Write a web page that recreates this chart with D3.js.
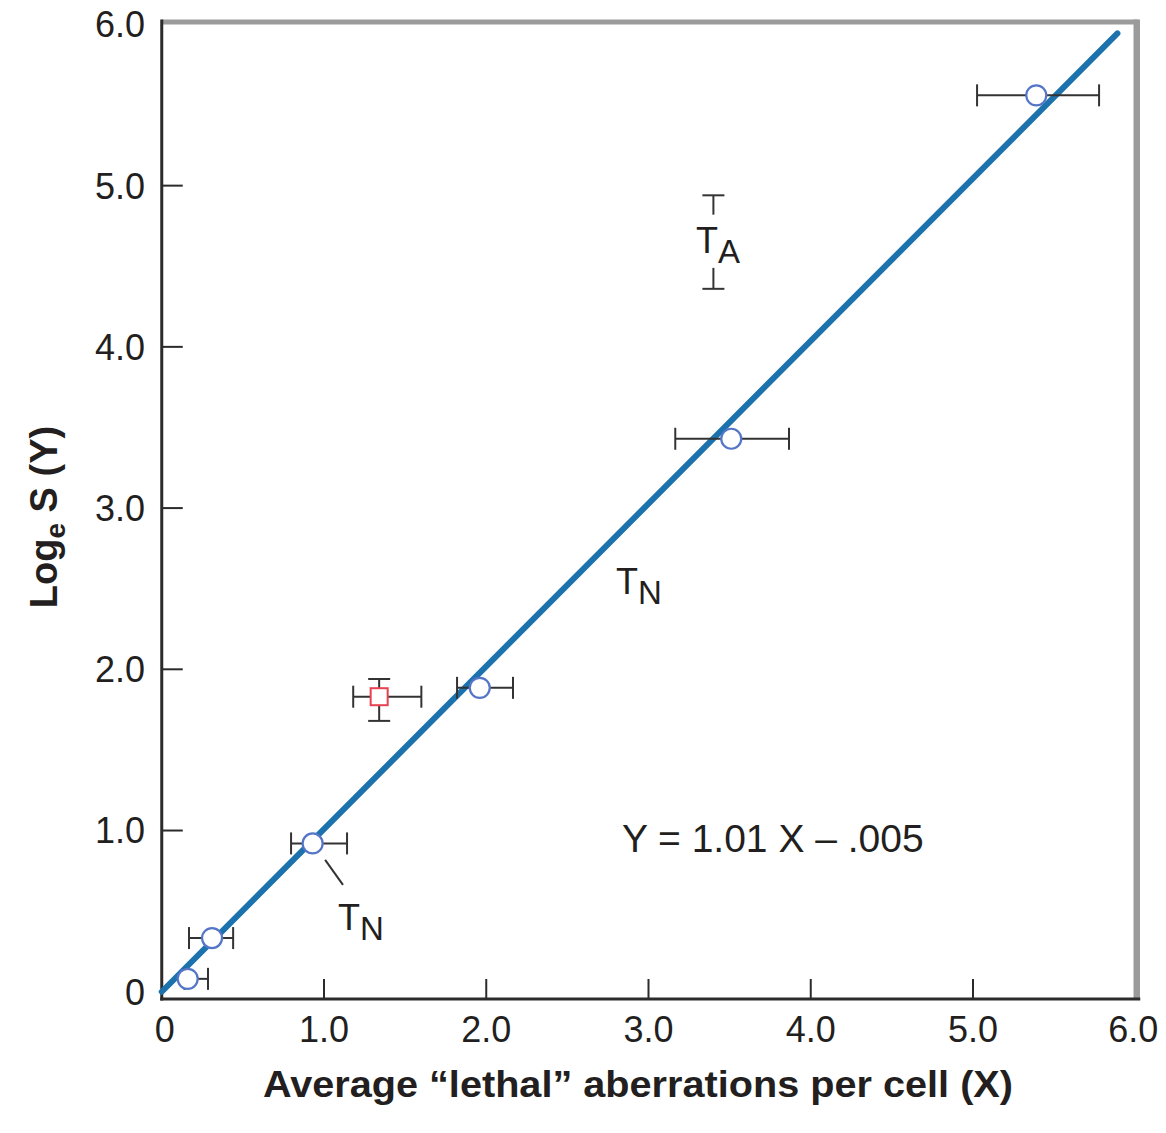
<!DOCTYPE html>
<html><head><meta charset="utf-8">
<script src="https://cdn.jsdelivr.net/npm/d3@7"></script>
<style>
html,body{margin:0;padding:0;background:#fff;}
text{font-family:"Liberation Sans",Arial,sans-serif;fill:#231f20;}
</style></head>
<body>
<svg id="chart" width="1166" height="1133"></svg>
<script>
// ---- data ----
const pointX   = [0.16, 0.31, 0.93, 1.96, 3.51, 5.39];
const pointY   = [0.08, 0.333, 0.92, 1.885, 3.43, 5.56];
const xErrLow  = [0.14, 0.168, 0.797, 1.82, 3.165, 5.025];
const xErrHigh = [0.285, 0.44, 1.142, 2.165, 3.866, 5.777];

const redX = [1.34], redY = [1.83];
const redXErrLow = [1.18], redXErrHigh = [1.60];
const redYErrLow = [1.68], redYErrHigh = [1.94];

const taX = [3.40], taYLow = [4.36], taYHigh = [4.94];
const taGapLow = [4.82], taGapHigh = [4.49];

const fitSlope = 1.01, fitIntercept = -0.005;
const fitXRange = [0, 5.89];

const xTicks = [0, 1, 2, 3, 4, 5, 6];
const xTickLabels = ["0", "1.0", "2.0", "3.0", "4.0", "5.0", "6.0"];
const yTicks = [0, 1, 2, 3, 4, 5, 6];
const yTickLabels = ["0", "1.0", "2.0", "3.0", "4.0", "5.0", "6.0"];

const labelText = [["T","N"], ["T","N"], ["T","A"]];
const labelX = [2.80, 1.086, 3.293];
const labelY = [2.47, 0.383, 4.58];
const leaderLine = [[1.007, 0.818], [1.117, 0.663]];
const equationText = "Y = 1.01 X \u2013 .005";
const equationPos = [2.836, 0.867];
const xTitle = "Average \u201clethal\u201d aberrations per cell (X)";

// ---- layout ----
const svg = d3.select("#chart");
const x = d3.scaleLinear().domain([0, 6]).range([161.75, 1135.25]);
const y = d3.scaleLinear().domain([-0.045, 6.015]).range([999, 22]);
const x0 = x(0), x1 = x(6), yb = y(-0.045), yt = y(6.015);

// frame: gray top & right
svg.append("line").attr("x1", x0).attr("x2", x1 + 3).attr("y1", yt).attr("y2", yt)
  .attr("stroke", "#9b9b9b").attr("stroke-width", 5);
svg.append("line").attr("x1", x1 + 1.5).attr("x2", x1 + 1.5).attr("y1", yt - 2.5).attr("y2", yb)
  .attr("stroke", "#9b9b9b").attr("stroke-width", 6.5);

// ticks (inward)
const dark = "#2b2b2b";
svg.append("g").selectAll("line").data(xTicks.filter(d => d > 0 && d < 6)).join("line")
  .attr("x1", d => x(d)).attr("x2", d => x(d)).attr("y1", yb).attr("y2", yb - 20)
  .attr("stroke", dark).attr("stroke-width", 2);
svg.append("g").selectAll("line").data(yTicks.filter(d => d > 0 && d < 6)).join("line")
  .attr("x1", x0).attr("x2", x0 + 21).attr("y1", d => y(d)).attr("y2", d => y(d))
  .attr("stroke", dark).attr("stroke-width", 2);

// left & bottom axis lines
svg.append("line").attr("x1", x0).attr("x2", x0).attr("y1", yt - 2.5).attr("y2", yb + 1.5)
  .attr("stroke", dark).attr("stroke-width", 3);
svg.append("line").attr("x1", x0 - 1.5).attr("x2", x1 + 5).attr("y1", yb).attr("y2", yb)
  .attr("stroke", dark).attr("stroke-width", 3);

// tick labels
svg.append("g").selectAll("text").data(xTicks).join("text")
  .attr("x", d => x(d) + (d === 0 ? 3 : 0) - (d === 6 ? 2 : 0)).attr("y", 1042)
  .attr("text-anchor", "middle").attr("font-size", 36)
  .text((d, i) => xTickLabels[i]);
svg.append("g").selectAll("text").data(yTicks).join("text")
  .attr("x", 145).attr("y", d => y(d)).attr("dy", "0.36em")
  .attr("text-anchor", "end").attr("font-size", 36)
  .text((d, i) => yTickLabels[i]);

// axis titles
svg.append("text").attr("x", 638).attr("y", 1097).attr("text-anchor", "middle")
  .attr("font-size", 37).attr("font-weight", "bold")
  .attr("textLength", 750).attr("lengthAdjust", "spacingAndGlyphs").text(xTitle);
const yt2 = svg.append("text").attr("transform", "translate(57,517) rotate(-90)")
  .attr("text-anchor", "middle").attr("font-size", 38).attr("font-weight", "bold");
yt2.append("tspan").text("Log");
yt2.append("tspan").attr("font-size", 28).attr("dy", 8).text("e");
yt2.append("tspan").attr("dy", -8).text(" S (Y)");

// fit line
svg.append("line")
  .attr("x1", x(fitXRange[0])).attr("y1", y(Math.max(0, fitSlope * fitXRange[0] + fitIntercept)))
  .attr("x2", x(fitXRange[1])).attr("y2", y(fitSlope * fitXRange[1] + fitIntercept))
  .attr("stroke", "#1b72ad").attr("stroke-width", 6).attr("stroke-linecap", "round");

// error bars
const ebColor = "#333", cap = 11;
const eb = svg.append("g").attr("stroke", ebColor).attr("stroke-width", 2).attr("fill", "none");
pointX.forEach((px, i) => {
  const yy = y(pointY[i]);
  eb.append("line").attr("x1", x(xErrLow[i])).attr("x2", x(xErrHigh[i])).attr("y1", yy).attr("y2", yy);
  eb.append("line").attr("x1", x(xErrLow[i])).attr("x2", x(xErrLow[i])).attr("y1", yy - cap).attr("y2", yy + cap);
  eb.append("line").attr("x1", x(xErrHigh[i])).attr("x2", x(xErrHigh[i])).attr("y1", yy - cap).attr("y2", yy + cap);
});
redX.forEach((rx, i) => {
  const cx = x(rx), cy = y(redY[i]);
  eb.append("line").attr("x1", x(redXErrLow[i])).attr("x2", x(redXErrHigh[i])).attr("y1", cy).attr("y2", cy);
  eb.append("line").attr("x1", x(redXErrLow[i])).attr("x2", x(redXErrLow[i])).attr("y1", cy - cap).attr("y2", cy + cap);
  eb.append("line").attr("x1", x(redXErrHigh[i])).attr("x2", x(redXErrHigh[i])).attr("y1", cy - cap).attr("y2", cy + cap);
  eb.append("line").attr("x1", cx).attr("x2", cx).attr("y1", y(redYErrLow[i])).attr("y2", y(redYErrHigh[i]));
  eb.append("line").attr("x1", cx - cap).attr("x2", cx + cap).attr("y1", y(redYErrLow[i])).attr("y2", y(redYErrLow[i]));
  eb.append("line").attr("x1", cx - cap).attr("x2", cx + cap).attr("y1", y(redYErrHigh[i])).attr("y2", y(redYErrHigh[i]));
});
taX.forEach((tx, i) => {
  const cx = x(tx);
  eb.append("line").attr("x1", cx).attr("x2", cx).attr("y1", y(taYHigh[i])).attr("y2", y(taGapLow[i]));
  eb.append("line").attr("x1", cx).attr("x2", cx).attr("y1", y(taGapHigh[i])).attr("y2", y(taYLow[i]));
  eb.append("line").attr("x1", cx - cap).attr("x2", cx + cap).attr("y1", y(taYHigh[i])).attr("y2", y(taYHigh[i]));
  eb.append("line").attr("x1", cx - cap).attr("x2", cx + cap).attr("y1", y(taYLow[i])).attr("y2", y(taYLow[i]));
});

// circles
svg.append("g").selectAll("circle").data(pointX).join("circle")
  .attr("cx", d => x(d)).attr("cy", (d, i) => y(pointY[i])).attr("r", 10)
  .attr("fill", "#fff").attr("stroke", "#5576c8").attr("stroke-width", 2.2);
// red square
svg.append("g").selectAll("rect").data(redX).join("rect")
  .attr("x", d => x(d) - 8.5).attr("y", (d, i) => y(redY[i]) - 8.5).attr("width", 17).attr("height", 17)
  .attr("fill", "#fff").attr("stroke", "#e8414f").attr("stroke-width", 2);

// leader line
svg.append("line").attr("x1", x(leaderLine[0][0])).attr("y1", y(leaderLine[0][1]))
  .attr("x2", x(leaderLine[1][0])).attr("y2", y(leaderLine[1][1]))
  .attr("stroke", "#333").attr("stroke-width", 2);

// T labels
labelText.forEach((t, i) => {
  const tx = svg.append("text").attr("x", x(labelX[i])).attr("y", y(labelY[i])).attr("font-size", 36);
  tx.append("tspan").text(t[0]);
  tx.append("tspan").attr("font-size", 33).attr("dy", 10).text(t[1]);
});

// equation
svg.append("text").attr("x", x(equationPos[0])).attr("y", y(equationPos[1]))
  .attr("font-size", 39).text(equationText);
</script>
</body></html>
